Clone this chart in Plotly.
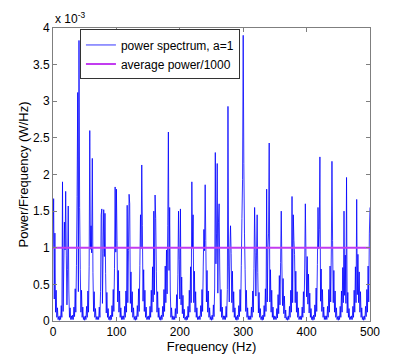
import plotly.graph_objects as go

# frequency bins (Hz), 1 Hz spacing
freq = list(range(0, 501))

# power spectral density, in units of 1e-3 W/Hz, one row per ~20 Hz lobe
psd = [
    # 0..9
    1.0, 1.67, 0.3, 1.2, 0.12, 0.42, 0.05, 0.18, 0.02, 0.06,
    # 10..29
    0.01, 0.07, 0.02, 0.21, 0.05, 1.9, 0.13, 0.75, 1.35, 0.97, 1.77, 0.9, 0.22, 0.7, 1.57, 0.41, 0.05, 0.18, 0.02, 0.07,
    # 30..49
    0.02, 0.08, 0.02, 0.19, 0.06, 0.44, 0.12, 0.76, 1.7, 3.12, 0.4, 3.83, 1.55, 0.7, 0.12, 0.42, 0.05, 0.19, 0.02, 0.06,
    # 50..69
    0.01, 0.07, 0.02, 0.2, 0.05, 0.41, 0.12, 0.74, 2.6, 0.98, 1.3, 0.93, 2.22, 0.66, 0.13, 0.4, 0.05, 0.17, 0.02, 0.06,
    # 70..89
    0.02, 0.06, 0.02, 0.19, 0.05, 0.4, 1.45, 1.53, 0.24, 0.92, 1.52, 0.88, 1.47, 0.65, 0.11, 0.39, 0.05, 0.17, 0.02, 0.06,
    # 90..109
    0.01, 0.08, 0.02, 0.21, 0.06, 0.43, 0.13, 0.72, 1.83, 0.94, 1.8, 1.1, 0.26, 0.69, 0.12, 0.41, 0.05, 0.18, 0.02, 0.07,
    # 110..129
    0.02, 0.07, 0.02, 0.2, 0.05, 0.41, 0.12, 1.58, 0.25, 0.96, 1.73, 1.6, 0.24, 0.67, 0.12, 0.4, 0.05, 0.18, 0.02, 0.06,
    # 130..149
    0.01, 0.07, 0.02, 0.21, 0.06, 0.44, 0.13, 0.76, 1.45, 0.99, 2.13, 1.3, 0.27, 0.7, 0.13, 0.42, 0.05, 0.19, 0.02, 0.06,
    # 150..169
    0.02, 0.07, 0.02, 0.2, 0.05, 0.42, 0.12, 0.74, 0.26, 1.5, 0.36, 1.72, 1.4, 0.68, 0.12, 0.4, 0.05, 0.18, 0.02, 0.06,
    # 170..189
    0.01, 0.08, 0.02, 0.2, 0.06, 0.43, 0.13, 0.75, 0.25, 0.97, 0.37, 1.3, 2.58, 0.69, 1.55, 0.41, 0.05, 0.18, 0.02, 0.07,
    # 190..209
    0.02, 0.06, 0.02, 0.17, 0.04, 0.36, 0.1, 0.63, 1.5, 0.84, 0.3, 1.53, 0.22, 0.6, 0.1, 0.35, 0.04, 0.16, 0.02, 0.05,
    # 210..229
    0.01, 0.07, 0.02, 0.2, 0.05, 0.42, 0.12, 0.74, 0.25, 1.9, 1.0, 1.45, 0.25, 0.68, 0.12, 0.4, 0.05, 0.18, 0.02, 0.06,
    # 230..249
    0.02, 0.07, 0.02, 0.21, 0.06, 0.43, 0.13, 0.75, 1.25, 0.96, 1.86, 1.1, 0.26, 0.69, 0.12, 0.41, 0.05, 0.18, 0.02, 0.06,
    # 250..269
    0.01, 0.08, 0.02, 0.22, 0.06, 0.45, 2.3, 0.78, 1.2, 2.15, 0.38, 1.35, 1.6, 0.71, 0.13, 0.43, 0.05, 0.19, 0.02, 0.07,
    # 270..289
    0.02, 0.07, 0.02, 0.2, 0.05, 0.43, 2.93, 0.75, 0.26, 0.97, 1.3, 0.92, 0.25, 0.68, 0.12, 0.4, 0.05, 0.18, 0.02, 0.06,
    # 290..309
    0.01, 0.08, 0.02, 0.21, 0.06, 0.43, 0.13, 0.76, 1.4, 1.93, 3.9, 2.15, 1.2, 0.7, 0.13, 0.42, 0.05, 0.18, 0.02, 0.07,
    # 310..329
    0.02, 0.07, 0.02, 0.19, 0.05, 0.41, 0.12, 0.72, 1.55, 0.93, 0.34, 0.9, 1.45, 0.66, 0.11, 0.39, 0.05, 0.17, 0.02, 0.06,
    # 330..349
    0.01, 0.08, 0.02, 0.21, 0.06, 0.44, 0.13, 1.8, 0.26, 0.98, 1.2, 2.43, 0.26, 0.7, 0.12, 0.42, 0.05, 0.19, 0.02, 0.07,
    # 350..369
    0.02, 0.06, 0.02, 0.17, 0.04, 0.36, 0.1, 0.62, 0.22, 0.8, 1.5, 0.78, 0.21, 0.58, 0.1, 0.34, 0.04, 0.15, 0.02, 0.05,
    # 370..389
    0.01, 0.07, 0.02, 0.2, 0.05, 0.42, 0.12, 1.7, 0.25, 1.45, 1.1, 0.91, 0.25, 0.68, 0.12, 0.4, 0.05, 0.18, 0.02, 0.06,
    # 390..409
    0.02, 0.07, 0.02, 0.19, 0.05, 0.4, 0.11, 0.71, 1.6, 0.9, 0.33, 0.88, 0.23, 0.64, 0.11, 0.38, 0.05, 0.17, 0.02, 0.06,
    # 410..429
    0.01, 0.08, 0.02, 0.22, 0.06, 0.45, 0.13, 0.77, 1.55, 0.99, 1.25, 2.24, 0.27, 0.71, 0.13, 0.43, 0.05, 0.19, 0.02, 0.07,
    # 430..449
    0.02, 0.07, 0.02, 0.2, 0.05, 0.43, 0.12, 0.75, 0.26, 0.97, 2.18, 1.1, 0.25, 0.69, 0.12, 0.41, 0.05, 0.18, 0.02, 0.06,
    # 450..469
    0.01, 0.07, 0.02, 0.2, 0.05, 0.41, 0.12, 0.73, 0.25, 1.5, 0.35, 0.9, 0.24, 1.96, 0.11, 0.39, 0.05, 0.17, 0.02, 0.06,
    # 470..489
    0.02, 0.07, 0.02, 0.2, 0.05, 0.42, 0.12, 0.74, 0.25, 1.66, 0.36, 0.91, 0.25, 0.67, 0.12, 0.4, 0.05, 0.18, 0.02, 0.06,
    # 490..500
    0.01, 0.07, 0.02, 0.2, 0.06, 0.43, 0.12, 0.75, 0.26, 1.2, 1.55,
]

avg_level = 1.0  # average power / 1000, same units
x_ticks = [0, 100, 200, 300, 400, 500]
y_ticks = [0, 0.5, 1, 1.5, 2, 2.5, 3, 3.5, 4]

font = "Liberation Sans, Arial, Helvetica, sans-serif"

fig = go.Figure()
fig.add_trace(go.Scatter(
    x=freq, y=psd, mode="lines", name="power spectrum, a=1",
    line=dict(color="rgb(0,0,255)", width=0.8, simplify=False),
))
fig.add_trace(go.Scatter(
    x=[freq[0], freq[-1]], y=[avg_level, avg_level], mode="lines",
    name="average power/1000",
    line=dict(color="#c23cf0", width=2),
))

axis_common = dict(
    showline=True, linecolor="#7f7f7f", linewidth=1, mirror="ticks",
    ticks="inside", ticklen=4, tickcolor="#7f7f7f",
    showgrid=False, zeroline=False, automargin=False,
    tickfont=dict(size=12, color="black", family=font),
)
fig.update_xaxes(range=[0, 500], tickvals=x_ticks,
                 title=dict(text="Frequency (Hz)", font=dict(size=13, family=font), standoff=1),
                 **axis_common)
fig.update_yaxes(range=[0, 4], tickvals=y_ticks,
                 ticktext=[f"{v:g}" for v in y_ticks],
                 title=dict(text="Power/Frequency (W/Hz)", font=dict(size=13, family=font), standoff=1),
                 **axis_common)

fig.add_annotation(text="x 10<sup>-3</sup>", xref="paper", yref="paper",
                   x=0, y=1, xanchor="left", yanchor="bottom", showarrow=False,
                   font=dict(size=12, family=font, color="black"))

# page body has an 8px margin, so the figure is 8px smaller than the window
fig.update_layout(
    width=401, height=354,
    margin=dict(l=45, r=39, t=20, b=41),
    plot_bgcolor="white", paper_bgcolor="white",
    font=dict(family=font, size=12, color="black"),
    legend=dict(x=0.085, y=0.995, xanchor="left", yanchor="top",
                bgcolor="white", bordercolor="#333333", borderwidth=1,
                itemwidth=30, tracegroupgap=0,
                font=dict(size=12, family=font)),
)

fig.write_html("out.html")
